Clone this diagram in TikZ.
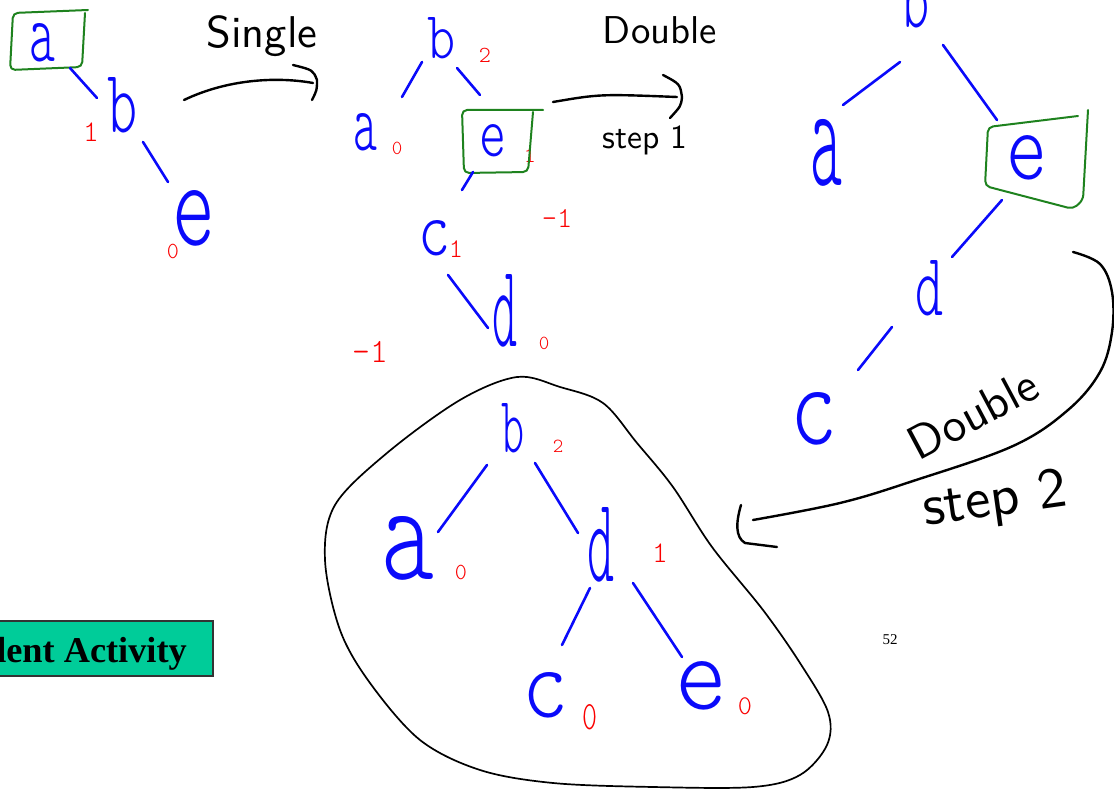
\documentclass[tikz,border=0pt]{standalone}
\usepackage{fontspec}
\usepackage{graphicx}
\newfontfamily\serifb{Liberation Serif}
\definecolor{pen}{RGB}{10,10,250}
\definecolor{redpen}{RGB}{250,0,0}
\definecolor{greenpen}{RGB}{30,130,30}
\definecolor{activity}{RGB}{0,204,153}
\newcommand{\thin}{\fontseries{l}\ttfamily}
\newcommand{\hw}[3]{\resizebox{#1pt}{#2pt}{\thin #3}}
\newcommand{\fsz}[1]{\fontsize{#1}{#1}\selectfont}
\begin{document}
\begin{tikzpicture}[x=1pt,y=-1pt,
  letter/.style={inner sep=0pt, text=pen},
  num/.style={inner sep=0pt, text=redpen},
  edge/.style={draw=pen, line width=2.6pt, line cap=round},
  gbox/.style={draw=greenpen, line width=2pt, rounded corners=5pt, line join=round, line cap=round},
  ink/.style={draw=black, line width=2.4pt, line cap=round, line join=round},
  lab/.style={inner sep=0pt, text=black, font=\sffamily}]
\useasboundingbox (0,0) rectangle (1114,791);
\clip (0,0) rectangle (1114,791);

% ---------------- tree 1 ----------------
\node[letter] (a1) at (43,43) {\hw{26}{38}{a}};
\node[letter] (b1) at (122,105) {\hw{30}{55}{b}};
\node[letter] (e1) at (194,218) {\hw{43}{55}{e}};
\node[num, font=\thin\fsz{30}] (nb1) at (91,132) {1};
\node[num, font=\thin\fsz{23}] (ne1) at (173,251) {0};
\draw[gbox] (88,10) -- (13,13) -- (10,70) -- (82,67) -- (85,13);
\coordinate (t1ab1) at (70,68); \coordinate (t1ab2) at (97,98);
\coordinate (t1be1) at (143,142); \coordinate (t1be2) at (168,182);
\draw[edge] (t1ab1) -- (t1ab2);
\draw[edge] (t1be1) -- (t1be2);

% Single arrow
\node[lab] (single) at (262,36) {\resizebox{111pt}{!}{Single}};
\coordinate (s1a) at (184,100); \coordinate (s1b) at (313,83);
\draw[ink] (s1a) .. controls (230,78) and (280,77) .. (s1b);
\draw[ink] (293,65) .. controls (313,70) .. (317,80) .. controls (317,90) .. (312,100);

% ---------------- tree 2 ----------------
\node[letter] (b2) at (441,38) {\hw{28}{41}{b}};
\node[letter] (a2) at (365,132) {\hw{24}{37}{a}};
\node[letter] (e2) at (493,141) {\hw{27}{32}{e}};
\node[letter] (c2) at (434,238) {\hw{32}{35}{c}};
\node[letter] (d2) at (505,311) {\hw{25}{72}{d}};
\node[num, font=\thin\fsz{23}] (nb2) at (485,55) {2};
\node[num, font=\thin\fsz{20}] (na2) at (397,148) {0};
\node[num, font=\thin\fsz{23}] (ne2) at (530,155) {1};
\node[num, font=\thin\fsz{27}] (nc2) at (456,249) {1};
\node[num, font=\thin\fsz{20}] (nd2) at (544,343) {0};
\node[num, font=\thin\fsz{29}] (m1) at (557,218) {-1};
\node[num, font=\thin\fsz{34}] (m2) at (370,352) {-1};
\draw[gbox] (543,110) -- (462,110) -- (464,173) -- (528,172) -- (533,112);
\coordinate (t2ba1) at (422,62); \coordinate (t2ba2) at (402,97);
\coordinate (t2be1) at (457,68); \coordinate (t2be2) at (480,95);
\coordinate (t2ec1) at (473,172); \coordinate (t2ec2) at (462,190);
\coordinate (t2cd1) at (448,275); \coordinate (t2cd2) at (488,328);
\draw[edge] (t2ba1) -- (t2ba2);
\draw[edge] (t2be1) -- (t2be2);
\draw[edge] (t2ec1) -- (t2ec2);
\draw[edge] (t2cd1) -- (t2cd2);

% Double step 1 arrow
\node[lab] (dbl1) at (660,30) {\resizebox{114pt}{!}{Double}};
\node[lab] (step1) at (645,140) {\resizebox{85pt}{!}{step 1}};
\coordinate (d1a) at (553,102); \coordinate (d1b) at (677,97);
\draw[ink] (d1a) .. controls (600,94) .. (d1b);
\draw[ink] (663,75) .. controls (680,84) .. (682,97) .. controls (681,106) .. (670,118);

% ---------------- tree 3 ----------------
\node[letter] (b3) at (915,0) {\hw{28}{55}{b}};
\node[letter] (a3) at (826,153) {\hw{32}{66}{a}};
\node[letter] (e3) at (1027,158) {\hw{41}{44}{e}};
\node[letter] (d3) at (929,288) {\hw{28}{55}{d}};
\node[letter] (c3) at (814,419) {\hw{47}{52}{c}};
\draw[gbox] (1078,116) -- (988,127) -- (985,186) -- (1073,209) -- (1083,200) -- (1088,110);
\coordinate (t3ba1) at (900,62); \coordinate (t3ba2) at (843,105);
\coordinate (t3be1) at (943,45); \coordinate (t3be2) at (997,120);
\coordinate (t3ed1) at (1002,200); \coordinate (t3ed2) at (952,257);
\coordinate (t3dc1) at (892,327); \coordinate (t3dc2) at (858,370);
\draw[edge] (t3ba1) -- (t3ba2);
\draw[edge] (t3be1) -- (t3be2);
\draw[edge] (t3ed1) -- (t3ed2);
\draw[edge] (t3dc1) -- (t3dc2);

% Double step 2 arrow
\node[lab, rotate=28] (dbl2) at (973,414) {\resizebox{140pt}{!}{Double}};
\node[lab, rotate=8] (step2) at (995,502) {\resizebox{145pt}{!}{step 2}};
\coordinate (d2a) at (1073,252); \coordinate (d2b) at (753,520);
\draw[ink] plot[smooth, tension=0.6] coordinates {(d2a) (1100,264) (1112,292) (1112,332) (1100,372) (1068,410) (1013,446) (913,481) (840,503) (d2b)};
\draw[ink] (741,505) .. controls (736,522) and (735,537) .. (745,543) -- (777,547);

% ---------------- tree 4 ----------------
\draw[ink, line width=1.7pt] plot[smooth cycle, tension=0.55] coordinates {
 (517,377) (560,387) (603,403) (637,443) (673,487) (712,547) (763,610) (800,663)
 (828,712) (827,745) (800,775) (753,787) (653,787) (553,783) (480,770) (420,740)
 (370,683) (340,630) (325,560) (335,505) (387,453) (460,400)};
\node[letter] (b4) at (513,428) {\hw{23}{49}{b}};
\node[letter] (a4) at (408,548) {\hw{53}{63}{a}};
\node[letter] (d4) at (601,545) {\hw{27}{74}{d}};
\node[letter] (c4) at (545,695) {\hw{46}{45}{c}};
\node[letter] (e4) at (701,686) {\hw{52}{48}{e}};
\node[num, font=\thin\fsz{20}] (nb4) at (558,446) {2};
\node[num, font=\thin\fsz{23}] (na4) at (461,572) {0};
\node[num, font=\thin\fsz{30}] (nd4) at (660,553) {1};
\node[num] (nc4) at (590,717) {\resizebox{15pt}{25pt}{\thin 0}};
\node[num, font=\thin\fsz{27}] (ne4) at (745,706) {0};
\coordinate (t4ba1) at (487,465); \coordinate (t4ba2) at (438,532);
\coordinate (t4bd1) at (535,463); \coordinate (t4bd2) at (578,533);
\coordinate (t4dc1) at (590,588); \coordinate (t4dc2) at (562,645);
\coordinate (t4de1) at (633,583); \coordinate (t4de2) at (682,657);
\draw[edge] (t4ba1) -- (t4ba2);
\draw[edge] (t4bd1) -- (t4bd2);
\draw[edge] (t4dc1) -- (t4dc2);
\draw[edge] (t4de1) -- (t4de2);

% ---------------- footer ----------------
\draw[fill=activity, draw=black!80, line width=1.5pt] (-5,621) rectangle (213,676);
\node[inner sep=0pt, anchor=base east, font=\serifb\bfseries\fsz{36.3}] (act) at (187,662) {Student Activity};
\node[inner sep=0pt, font=\serifb\fsz{15}] (page) at (890,640) {52};
\end{tikzpicture}
\end{document}
